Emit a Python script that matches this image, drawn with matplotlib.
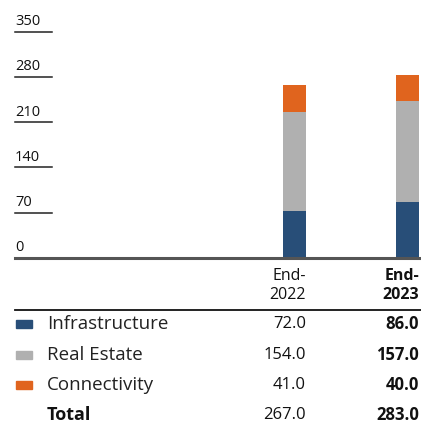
import matplotlib
matplotlib.use("Agg")
import matplotlib.pyplot as plt
import matplotlib.transforms as mtransforms
from matplotlib.patches import Rectangle

plt.rcParams['font.family'] = ['Open Sans', 'DejaVu Sans']

# data
years = ["End-", "End-"]
years2 = ["2022", "2023"]
segments = ["Infrastructure", "Real Estate", "Connectivity"]
infrastructure = [72.0, 86.0]
real_estate = [154.0, 157.0]
connectivity = [41.0, 40.0]
totals = [267.0, 283.0]
yticks = [0, 70, 140, 210, 280, 350]
colors = ["#284e78", "#b0b0b0", "#e0641e"]

W, H = 421, 426
fig = plt.figure(figsize=(W / 100, H / 100), dpi=100)


def fx(px):
    return px / W


def fy(py):
    return 1 - py / H


# bar area: x 15..421 px, y 0 at 258 px, 350 at 31.5 px
left, right = 15, 421
base, top = 258, 31.5
ax = fig.add_axes([fx(left), fy(base), fx(right - left), (base - top) / H])
spacing = 113.5
x0 = (294 - left) / spacing
ax.set_xlim(-x0, -x0 + (right - left) / spacing)
ax.set_ylim(0, 350)
ax.axis("off")

pos = [0, 1]
bottom = [0, 0]
for vals, c in zip([infrastructure, real_estate, connectivity], colors):
    ax.bar(pos, vals, bottom=bottom, width=23 / spacing, color=c, zorder=2)
    bottom = [b + v for b, v in zip(bottom, vals)]

trans = mtransforms.blended_transform_factory(ax.transAxes, ax.transData)
for t in yticks:
    if t == 0:
        ax.axhline(0, xmin=0, xmax=1, color="#555555", lw=2.2, zorder=3, clip_on=False)
    else:
        ax.axhline(t, xmin=0, xmax=(52 - left) / (right - left), color="#222222", lw=1.1, clip_on=False)
    ax.text(0, t + 4, str(t), transform=trans, ha="left", va="bottom",
            fontsize=10.5, color="#111111")

# table
fs = 12
col_x = [306, 419]
for i in range(2):
    w = "bold" if i == 1 else "normal"
    fig.text(fx(col_x[i]), fy(276), years[i], ha="right", va="center", fontsize=11.5,
             color="#111111", fontweight=w)
    fig.text(fx(col_x[i]), fy(295), years2[i], ha="right", va="center", fontsize=11.5,
             color="#111111", fontweight=w)

fig.add_artist(plt.Line2D([fx(15), fx(421)], [fy(309.5), fy(309.5)], color="#111111", lw=1.3))

row_y = [324, 355, 385]
columns = list(zip(infrastructure, real_estate, connectivity))
for r, (name, c) in enumerate(zip(segments, colors)):
    y = row_y[r]
    fig.add_artist(Rectangle((fx(16), fy(y + 4)), fx(16), 8 / H, color=c,
                             transform=fig.transFigure))
    fig.text(fx(47), fy(y), name, ha="left", va="center", fontsize=13.5, color="#222222")
    for i in range(2):
        fig.text(fx(col_x[i]), fy(y), f"{columns[i][r]:.1f}", ha="right", va="center",
                 fontsize=fs, color="#111111",
                 fontweight="bold" if i == 1 else "normal")

fig.text(fx(47), fy(415), "Total", ha="left", va="center", fontsize=13,
         fontweight="bold", color="#111111")
for i in range(2):
    fig.text(fx(col_x[i]), fy(415), f"{totals[i]:.1f}", ha="right", va="center",
             fontsize=fs, color="#111111",
             fontweight="bold" if i == 1 else "normal")

fig.savefig("out.png", dpi=100)
